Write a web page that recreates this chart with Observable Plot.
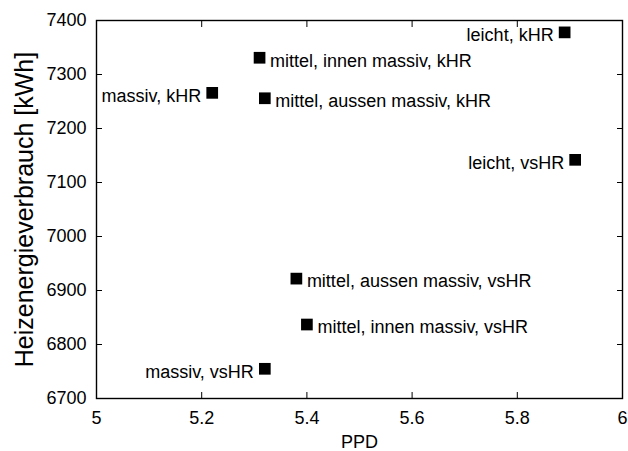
<!DOCTYPE html>
<html><head><meta charset="utf-8">
<script src="https://cdn.jsdelivr.net/npm/d3@7"></script>
<script src="https://cdn.jsdelivr.net/npm/@observablehq/plot@0.6"></script>
<style>body{margin:0;background:#fff}</style>
</head><body><div id="chart"></div>
<script>
const labels = [
  "massiv, kHR",
  "mittel, innen massiv, kHR",
  "mittel, aussen massiv, kHR",
  "leicht, kHR",
  "leicht, vsHR",
  "mittel, aussen massiv, vsHR",
  "mittel, innen massiv, vsHR",
  "massiv, vsHR"
];
const ppd = [5.22, 5.31, 5.32, 5.89, 5.91, 5.38, 5.40, 5.32];
const energy = [7266, 7331, 7256, 7378, 7142, 6922, 6837, 6755];
const xTicks = [5, 5.2, 5.4, 5.6, 5.8, 6];
const yTicks = [6700, 6800, 6900, 7000, 7100, 7200, 7300, 7400];
const xTitle = "PPD";
const yTitle = "Heizenergieverbrauch [kWh]";

// labels drawn to the left of their point
const leftSide = new Set(["massiv, kHR", "leicht, kHR", "leicht, vsHR", "massiv, vsHR"]);

const data = labels.map((name, i) => ({name, x: ppd[i], y: energy[i]}));
const font = "'Liberation Sans', Arial, Helvetica, sans-serif";

const chart = Plot.plot({
  width: 628,
  height: 451,
  marginLeft: 96,
  marginRight: 6,
  marginTop: 20,
  marginBottom: 53,
  style: {fontFamily: font, fontSize: "18px", color: "#000", background: "#fff", overflow: "visible"},
  x: {domain: [5, 6]},
  y: {domain: [6700, 7400]},
  marks: [
    Plot.axisX({anchor: "bottom", ticks: xTicks, tickSize: -6, tickPadding: 19, tickFormat: d => String(d), label: null}),
    Plot.axisX({anchor: "top", ticks: xTicks, tickSize: -6, tickFormat: () => "", label: null}),
    Plot.axisY({anchor: "left", ticks: yTicks, tickSize: -6, tickPadding: 16, tickFormat: d => String(d), label: null}),
    Plot.axisY({anchor: "right", ticks: yTicks, tickSize: -6, tickFormat: () => "", label: null}),
    Plot.frame({stroke: "#000", strokeWidth: 1.4}),
    Plot.dot(data, {x: "x", y: "y", symbol: "square", r: 6.6, fill: "#000", stroke: null}),
    Plot.text(data.filter(d => leftSide.has(d.name)), {x: "x", y: "y", text: "name", textAnchor: "end", dx: -11, dy: 3, fill: "#000"}),
    Plot.text(data.filter(d => !leftSide.has(d.name)), {x: "x", y: "y", text: "name", textAnchor: "start", dx: 10.5, dy: 3, fill: "#000"}),
    Plot.text([xTitle], {frameAnchor: "bottom", textAnchor: "middle", lineAnchor: "middle", dy: 44, fill: "#000"}),
    Plot.text([yTitle], {frameAnchor: "left", textAnchor: "middle", lineAnchor: "middle", rotate: -90, dx: -72, fontSize: 25, fill: "#000"})
  ]
});
document.getElementById("chart").appendChild(chart);
</script>
</body></html>
